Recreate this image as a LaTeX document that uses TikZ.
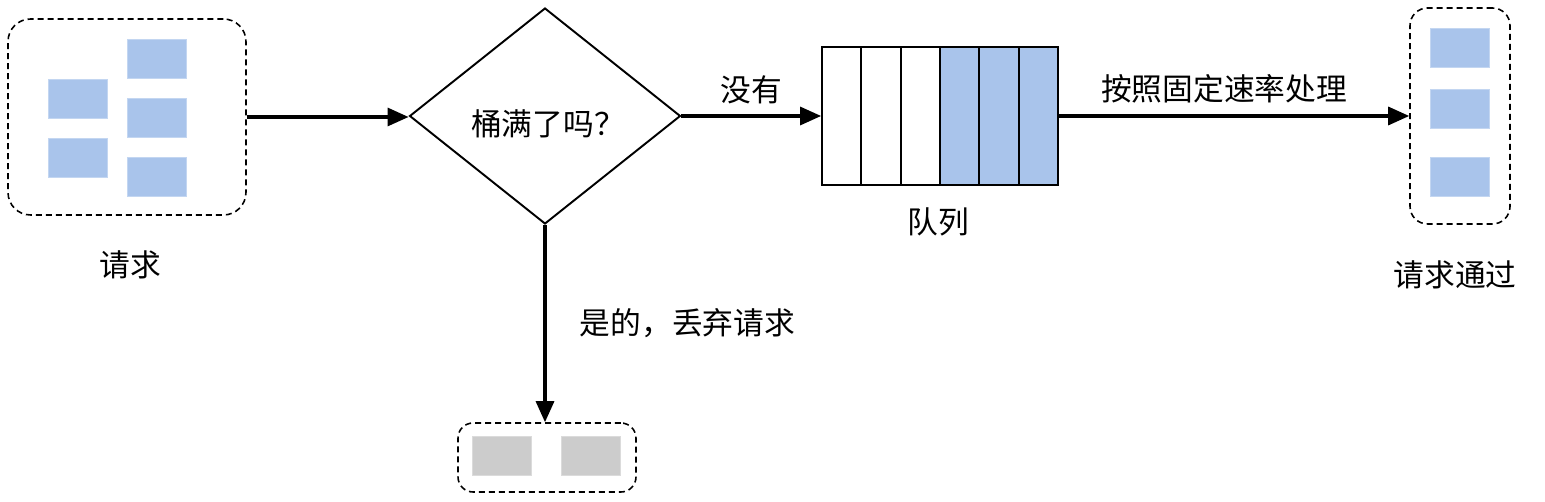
\documentclass[tikz,border=0pt]{standalone}
\usepackage{fontspec}
\setmainfont{Noto Sans CJK SC}
\usepackage {tikz}
\usetikzlibrary {positioning}
\usetikzlibrary{shapes.geometric}
\usetikzlibrary{arrows.meta}
\definecolor{reqblue}{HTML}{A9C4EB}
\definecolor{dropgray}{HTML}{CCCCCC}
\tikzset{
	group/.style = {rectangle, draw, dash pattern=on 0.12cm off 0.08cm, line width=0.9pt, rounded corners=0.45cm, inner sep=0pt},
    packet/.style = {rectangle, fill=reqblue, draw=reqblue!70!white, line width=0.3pt, minimum width=1.18cm, minimum height=0.78cm, inner sep=0pt},
    dropped/.style = {packet, fill=dropgray, draw=dropgray!70!white},
    slot/.style = {rectangle, draw, line width=1pt, minimum width=0.787cm, minimum height=2.76cm, inner sep=0pt},
    decision/.style = {diamond, draw, line width=1.1pt, minimum width=5.42cm, minimum height=4.32cm, inner sep=0pt}}

\begin{document}
\begin{tikzpicture}[x=0.02cm, y=-0.02cm,
    font=\fontsize{17.5}{20}\selectfont,
    flow/.style ={-{Triangle[length=0.42cm,width=0.36cm]}, line width=1.8pt}
    ]
    \useasboundingbox (0,0) rectangle (1545,502);
    % incoming requests
    \node[group, minimum width=4.76cm, minimum height=3.92cm] (src) at (127,117) {};
    \node[packet] (s1) at (77.5,98.5) {};
    \node[packet] (s2) at (77.5,157.5) {};
    \node[packet] (s3) at (156.5,59) {};
    \node[packet] (s4) at (156.5,118) {};
    \node[packet] (s5) at (156.5,176.5) {};
    \node (srclabel) at (130,265) {请求};
    % bucket check
    \node[decision] (full) at (545,116) {};
    \node (fulltext) at (548,124) {桶满了吗？};
    % queue
    \foreach \i/\c in {0/white,1/white,2/white,3/reqblue,4/reqblue,5/reqblue}
        \node[slot, fill=\c] (q\i) at (841.67+39.33*\i,116) {};
    \node (qlabel) at (938,222) {队列};
    % passed requests
    \node[group, minimum width=2cm, minimum height=4.32cm, rounded corners=0.35cm] (pass) at (1460,116) {};
    \node[packet] (t1) at (1460,47.5) {};
    \node[packet] (t2) at (1460,108.5) {};
    \node[packet] (t3) at (1460,176.5) {};
    \node (passlabel) at (1455,275) {请求通过};
    % dropped requests
    \node[group, minimum width=3.56cm, minimum height=1.38cm, rounded corners=0.3cm] (drop) at (547,457.5) {};
    \node[dropped] (d1) at (501.5,455.5) {};
    \node[dropped] (d2) at (590.5,455.5) {};
    \draw[flow] (src.east) -- (src.east -| full.west);
    \draw[flow] (full.east) -- node[above=0.1cm] {没有} (q0.west);
    \draw[flow] (q5.east) -- node[above=0.1cm, xshift=-0.2cm] {按照固定速率处理} (pass.west);
    \draw[flow] (full.south) -- node[right=0.55cm] {是的，丢弃请求} (full.south |- drop.north);
    \end{tikzpicture}
\end{document}
